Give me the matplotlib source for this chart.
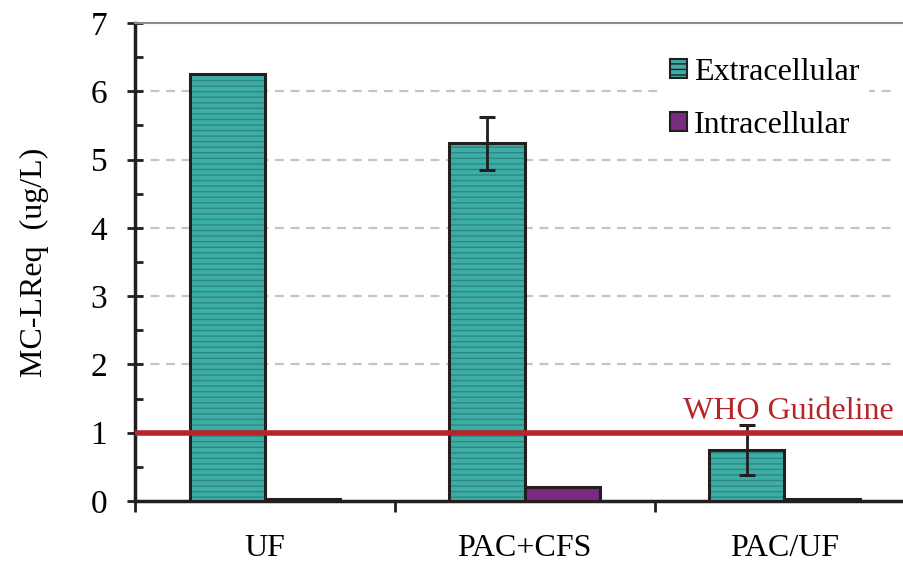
import matplotlib.pyplot as plt
import numpy as np
from matplotlib.patches import Patch

plt.rcParams['font.family'] = ['Liberation Serif', 'DejaVu Serif']
plt.rcParams['hatch.linewidth'] = 1.0

categories = ['UF', 'PAC+CFS', 'PAC/UF']
extra = [6.25, 5.24, 0.75]
extra_err = [0, 0.39, 0.37]
intra = [0.03, 0.20, 0.03]
who_limit = 1.0

teal = '#3dada5'
stripe = '#2b8a83'
purple = '#7b2a82'
dark = '#231f20'
red = '#b7252a'

fig = plt.figure(figsize=(9.04, 5.67), dpi=100)
ax = fig.add_axes([135 / 904, 66 / 567, 769 / 904, 478 / 567])

x = np.arange(len(categories))
w = 0.29

# teal bars with horizontal stripes, then the outline on top
ax.bar(x - w / 2, extra, w, color=teal, edgecolor=stripe, hatch='---', linewidth=0, zorder=3)
ax.bar(x - w / 2, extra, w, fill=False, edgecolor=dark, linewidth=2.2, zorder=4)
ax.errorbar([x[i] - w / 2 for i in (1, 2)], [extra[i] for i in (1, 2)],
            yerr=[extra_err[i] for i in (1, 2)], fmt='none', ecolor=dark,
            elinewidth=2, capsize=6, capthick=2.2, zorder=5)
ax.bar(x + w / 2, intra, w, color=purple, edgecolor=dark, linewidth=2.2, zorder=3)

ax.axhline(who_limit, color=red, linewidth=4, zorder=6)
ax.text(2.42, 1.1, 'WHO Guideline', color=red, fontsize=23, ha='right', va='bottom', zorder=6)

ax.set_ylim(0, 7)
ax.set_xlim(-0.5, 2.46)
ax.set_yticks(range(0, 8))
ax.set_yticks(np.arange(0.5, 7, 1), minor=True)
for yv in range(2, 7):
    ax.plot([-0.5, 2.42], [yv, yv], color='#c4c4c4', linestyle=(0, (4, 3)), linewidth=1.6, zorder=0)
ax.set_ylabel('MC-LReq  (ug/L)', fontsize=23, labelpad=30)

ax.set_xticks(x)
ax.set_xticklabels(categories)
ax.set_xticks([-0.5, 0.5, 1.5], minor=True)
ax.tick_params(axis='x', which='major', length=0, pad=24, labelsize=23)
ax.tick_params(axis='x', which='minor', direction='out', length=8, width=2, color=dark)
ax.tick_params(axis='y', which='major', direction='inout', length=12, width=2, color=dark,
               labelsize=24, pad=14)
ax.tick_params(axis='y', which='minor', direction='in', length=6, width=2, color=dark)

ax.spines['right'].set_visible(False)
ax.spines['top'].set_color('#8a8a8a')
ax.spines['top'].set_linewidth(1.5)
for side in ['left', 'bottom']:
    ax.spines[side].set_linewidth(2.5)
    ax.spines[side].set_color(dark)

handles = [Patch(facecolor=teal, edgecolor=dark, hatch='---', linewidth=1.5, label='Extracellular'),
           Patch(facecolor=purple, edgecolor=dark, linewidth=1.5, label='Intracellular')]
leg = ax.legend(handles=handles, loc='upper right', bbox_to_anchor=(0.975, 0.98), frameon=True,
                fancybox=False, facecolor='white', edgecolor='none', framealpha=1,
                fontsize=23, handlelength=0.55, handleheight=0.55, handletextpad=0.2,
                labelspacing=0.75, borderpad=0.3)
leg.set_zorder(2)

fig.savefig('out.png', dpi=100)
